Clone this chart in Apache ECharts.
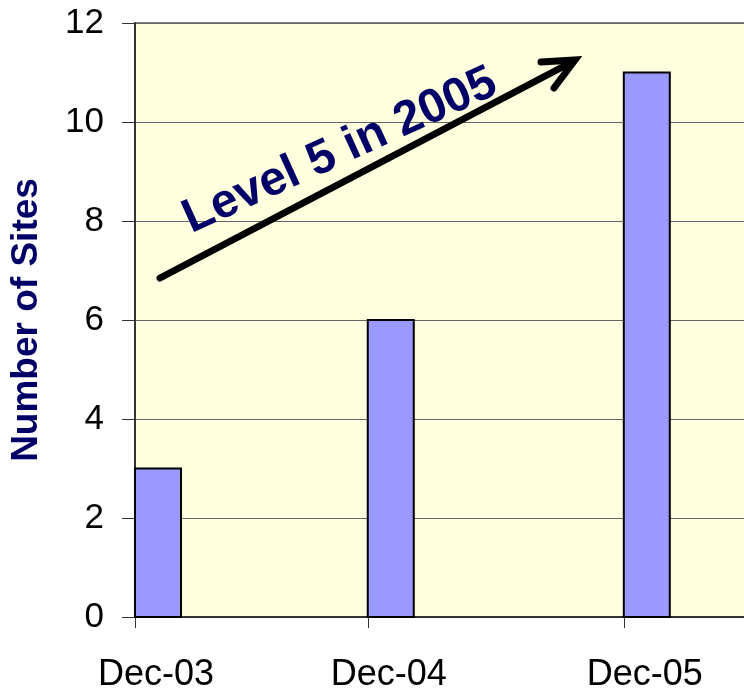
<!DOCTYPE html>
<html>
<head>
<meta charset="utf-8">
<script src="https://cdn.jsdelivr.net/npm/echarts@6/dist/echarts.min.js"></script>
<style>
  html, body { margin: 0; padding: 0; background: #fff; }
  #main { width: 744px; height: 690px; }
</style>
</head>
<body>
<div id="main"></div>
<script>
// data
var categories = ['Dec-03', 'Dec-04', 'Dec-05'];
var xPos = [0, 12, 25.2];          // months after Dec-03 (axis is not evenly spaced)
var siteCounts = [3, 6, 11];
var yTicks = [0, 2, 4, 6, 8, 10, 12];

var FONT = "'Liberation Sans', Arial, sans-serif";
var NAVY = '#000066';

function renderBar(params, api) {
    var top = api.coord([api.value(0), api.value(1)]);
    var base = api.coord([api.value(0), 0]);
    return {
        type: 'rect',
        shape: { x: base[0], y: top[1], width: 46, height: base[1] - top[1] },
        style: { fill: '#9999FF', stroke: '#000', lineWidth: 2 }
    };
}

var barData = [];
for (var i = 0; i < xPos.length; i++) {
    barData.push([xPos[i], siteCounts[i]]);
}

var dom = document.getElementById('main');
var myChart = echarts.init(dom);
var option = {
    animation: false,
    backgroundColor: '#ffffff',
    grid: {
        left: 135, top: 23, right: -2, bottom: 73,
        outerBoundsMode: 'none',
        containLabel: false,
        show: true,
        backgroundColor: '#FFFFDF',
        borderColor: '#808080',
        borderWidth: 2
    },
    xAxis: {
        type: 'value',
        min: 0,
        max: 31.5,
        axisLine: { show: true, lineStyle: { color: '#333', width: 2 } },
        axisTick: { show: true, length: 11, customValues: xPos, lineStyle: { color: '#333' } },
        axisLabel: {
            customValues: xPos,
            fontSize: 36,
            fontFamily: FONT,
            color: '#000',
            margin: 40,
            padding: [0, 0, 0, 42],
            formatter: function (v) {
                var idx = xPos.indexOf(v);
                return idx >= 0 ? categories[idx] : '';
            }
        },
        splitLine: { show: false }
    },
    yAxis: {
        type: 'value',
        min: yTicks[0],
        max: yTicks[yTicks.length - 1],
        interval: 2,
        name: 'Number of Sites',
        nameLocation: 'middle',
        nameGap: 90,
        nameTextStyle: { fontSize: 37, fontWeight: 'bold', fontFamily: FONT, color: NAVY },
        axisLine: { show: true, lineStyle: { color: '#333', width: 2 } },
        axisTick: { show: true, length: 13, lineStyle: { color: '#333' } },
        axisLabel: { fontSize: 35, fontFamily: FONT, color: '#000', margin: 31 },
        splitLine: { show: true, lineStyle: { color: '#666', width: 1 } }
    },
    series: [
        {
            type: 'custom',
            renderItem: renderBar,
            encode: { x: 0, y: 1 },
            data: barData,
            z: 3
        }
    ],
    graphic: [
        {
            type: 'polyline',
            z: 10,
            shape: { points: [[160, 278], [572, 62]] },
            style: { stroke: '#000', lineWidth: 7, lineCap: 'round' }
        },
        {
            type: 'polyline',
            z: 10,
            shape: { points: [[541, 62], [575, 60], [554, 88]] },
            style: { stroke: '#000', lineWidth: 7, lineCap: 'round', lineJoin: 'miter', fill: null }
        },
        {
            type: 'text',
            z: 11,
            x: 340,
            y: 151,
            rotation: 24.5 * Math.PI / 180,
            style: {
                text: 'Level 5 in 2005',
                font: 'bold 48px ' + FONT,
                fill: NAVY,
                align: 'center',
                verticalAlign: 'middle'
            }
        }
    ]
};

if (option && typeof option === "object") {
    myChart.setOption(option, true);
}
</script>
</body>
</html>
